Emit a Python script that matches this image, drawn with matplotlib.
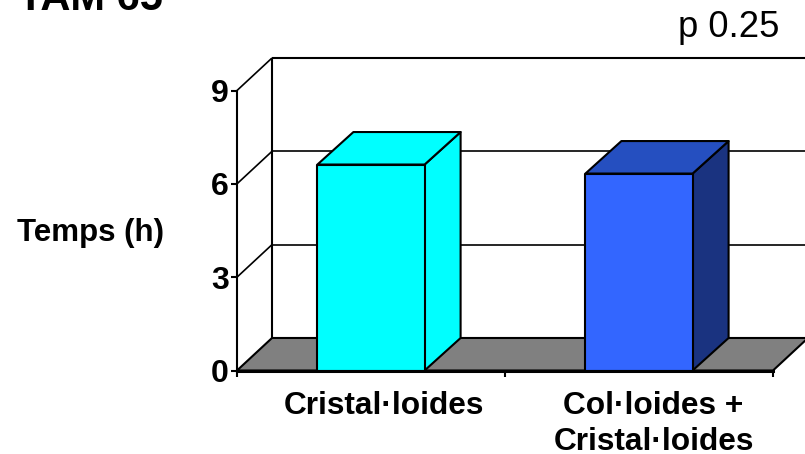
import matplotlib
matplotlib.use("Agg")
import matplotlib.pyplot as plt
from matplotlib.patches import Polygon

plt.rcParams['font.family'] = ['Liberation Sans', 'DejaVu Sans']

categories = ["Cristal·loides", "Col·loides +\nCristal·loides"]
values = [6.62, 6.33]
yticks = [0, 3, 6, 9]

front_colors = ["#00ffff", "#3366ff"]
top_colors = ["#00ffff", "#254fc0"]
side_colors = ["#00ffff", "#1a3380"]
floor_color = "#808080"

W, H = 805, 454
fig = plt.figure(figsize=(W / 100, H / 100), dpi=100)
ax = fig.add_axes([237 / W, 1 - 370.5 / H, 536 / W, 280 / H])
ax.set_xlim(0, 2)
ax.set_ylim(0, 9)
ax.patch.set_visible(False)

# depth of the fake 3d box, in data units
dx = 35 / 268
dy = 32.5 / 31.1
bar_dx = 36 / 268
lw = 1.5


def poly(pts, fc, z):
    ax.add_patch(Polygon(pts, closed=True, facecolor=fc, edgecolor="black",
                         linewidth=lw, zorder=z, clip_on=False, joinstyle="round"))


def line(xs, ys, w=lw, z=2):
    ax.plot(xs, ys, color="black", linewidth=w, zorder=z, clip_on=False,
            solid_capstyle="butt")


# floor
poly([(0, 0), (2, 0), (2 + dx, dy), (dx, dy)], floor_color, 1)

# back wall and side wall
line([dx, dx], [dy, 9 + dy], 1.5)
line([dx, 2 + dx], [9 + dy, 9 + dy], 1.5)
for t in yticks[1:]:
    line([0, dx], [t, t + dy], 1.2)
    if t < 9:
        line([dx, 2 + dx], [t + dy, t + dy], 1.2)

# bars
width = 0.4
for i, v in enumerate(values):
    x0 = i + 0.5 - width / 2
    x1 = x0 + width
    poly([(x1, 0), (x1 + bar_dx, dy), (x1 + bar_dx, v + dy), (x1, v)], side_colors[i], 3)
    poly([(x0, v), (x1, v), (x1 + bar_dx, v + dy), (x0 + bar_dx, v + dy)], top_colors[i], 3)
    poly([(x0, 0), (x1, 0), (x1, v), (x0, v)], front_colors[i], 4)

for s in ["top", "right"]:
    ax.spines[s].set_visible(False)
ax.spines["left"].set_linewidth(1.5)
ax.spines["bottom"].set_linewidth(2.2)
ax.spines["left"].set_zorder(5)
ax.spines["bottom"].set_zorder(5)

ax.set_yticks(yticks)
ax.set_xticks([0, 1, 2])
ax.set_xticklabels([])
ax.tick_params(axis="both", length=4, width=1.5, color="black")
ax.tick_params(axis="y", labelsize=23, pad=2)
for lab in ax.get_yticklabels():
    lab.set_fontweight("bold")

label_x = [0.548, 1.554]
for i, c in enumerate(categories):
    ax.text(label_x[i], -0.66, c, ha="center", va="top", fontsize=22.8,
            fontweight="bold", linespacing=1.28, clip_on=False)

fig.text(17 / W, 1 - 241 / H, "Temps (h)", fontsize=22.5, fontweight="bold", ha="left", va="baseline")
fig.text(678 / W, 1 - 37 / H, "p 0.25", fontsize=26.2, ha="left", va="baseline")
fig.text(18 / W, 1 - 10 / H, "TAM 65", fontsize=30, fontweight="bold", ha="left", va="baseline")

fig.savefig("out.png", dpi=100)
